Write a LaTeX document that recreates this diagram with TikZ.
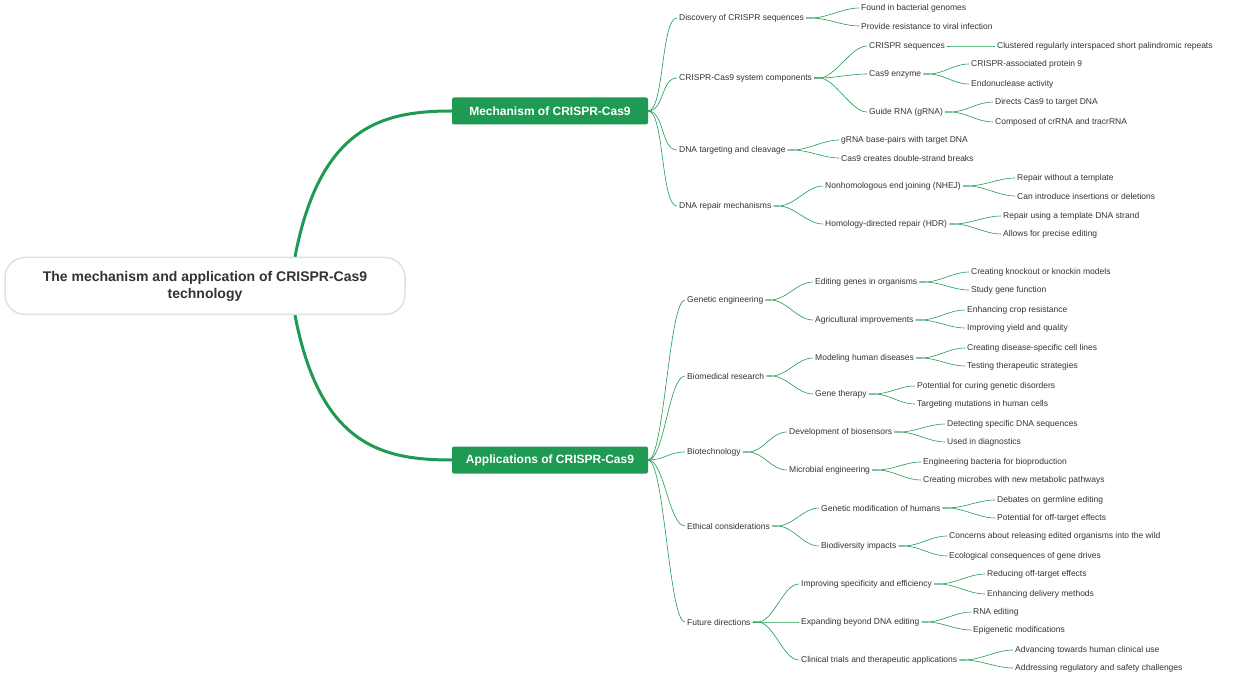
\documentclass[tikz,border=0pt]{standalone}
\usepackage{fontspec}
\setmainfont{Liberation Sans}
\usetikzlibrary{positioning}
\definecolor{mapgreen}{HTML}{1F9A52}
\definecolor{maptext}{HTML}{333333}
\newcommand\maplink[2]{\draw[link] (#1.east) -- ++(5,0) .. controls +(16,0) and +(-16,0) .. (#2.west);}
\begin{document}
\begin{tikzpicture}
[
	x=1pt, y=-1pt,
	root/.style = {rectangle, draw=black!12, line width=1.5pt, fill=white, rounded corners=20pt, minimum width=400pt, minimum height=57pt, align=center, font=\fontsize{14}{17}\selectfont\bfseries, text=maptext},
	main/.style = {rectangle, fill=mapgreen, rounded corners=2pt, minimum width=196pt, minimum height=27pt, font=\fontsize{12}{14}\selectfont\bfseries, text=white},
	leaf/.style = {anchor=west, inner sep=2pt, font=\fontsize{8.5}{10}\selectfont, text=maptext},
	link/.style = {draw=mapgreen, line width=0.6pt},
	trunk/.style = {draw=mapgreen, line width=3pt}
]
\useasboundingbox (0,0) rectangle (1240,676);

\node[root] (root) at (205,286) {The mechanism and application of CRISPR-Cas9\\technology};
\node[main] (mech) at (550,111) {Mechanism of CRISPR-Cas9};
\node[main] (appl) at (550,460) {Applications of CRISPR-Cas9};

\draw[trunk] ([xshift=90pt]root.north) .. controls +(25,-130) and +(-70,0) .. (mech.west);
\draw[trunk] ([xshift=90pt]root.south) .. controls +(25,130) and +(-70,0) .. (appl.west);

% mechanism
\node[leaf] (disc) at (677,18) {Discovery of CRISPR sequences};
\node[leaf] (disca) at (859,8) {Found in bacterial genomes};
\node[leaf] (discb) at (859,26) {Provide resistance to viral infection};
\node[leaf] (comp) at (677,78) {CRISPR-Cas9 system components};
\node[leaf] (seq) at (867,46) {CRISPR sequences};
\node[leaf] (seqa) at (995,46) {Clustered regularly interspaced short palindromic repeats};
\node[leaf] (cas) at (867,74) {Cas9 enzyme};
\node[leaf] (casa) at (969,64) {CRISPR-associated protein 9};
\node[leaf] (casb) at (969,84) {Endonuclease activity};
\node[leaf] (grna) at (867,112) {Guide RNA (gRNA)};
\node[leaf] (grnaa) at (993,102) {Directs Cas9 to target DNA};
\node[leaf] (grnab) at (993,122) {Composed of crRNA and tracrRNA};
\node[leaf] (targ) at (677,150) {DNA targeting and cleavage};
\node[leaf] (targa) at (839,140) {gRNA base-pairs with target DNA};
\node[leaf] (targb) at (839,158) {Cas9 creates double-strand breaks};
\node[leaf] (rep) at (677,206) {DNA repair mechanisms};
\node[leaf] (nhej) at (823,186) {Nonhomologous end joining (NHEJ)};
\node[leaf] (nheja) at (1015,178) {Repair without a template};
\node[leaf] (nhejb) at (1015,196) {Can introduce insertions or deletions};
\node[leaf] (hdr) at (823,224) {Homology-directed repair (HDR)};
\node[leaf] (hdra) at (1001,216) {Repair using a template DNA strand};
\node[leaf] (hdrb) at (1001,234) {Allows for precise editing};

% applications
\node[leaf] (gen) at (685,300) {Genetic engineering};
\node[leaf] (edit) at (813,282) {Editing genes in organisms};
\node[leaf] (edita) at (969,272) {Creating knockout or knockin models};
\node[leaf] (editb) at (969,290) {Study gene function};
\node[leaf] (agri) at (813,320) {Agricultural improvements};
\node[leaf] (agria) at (965,310) {Enhancing crop resistance};
\node[leaf] (agrib) at (965,328) {Improving yield and quality};
\node[leaf] (bio) at (685,376) {Biomedical research};
\node[leaf] (mod) at (813,358) {Modeling human diseases};
\node[leaf] (moda) at (965,348) {Creating disease-specific cell lines};
\node[leaf] (modb) at (965,366) {Testing therapeutic strategies};
\node[leaf] (ther) at (813,394) {Gene therapy};
\node[leaf] (thera) at (915,386) {Potential for curing genetic disorders};
\node[leaf] (therb) at (915,404) {Targeting mutations in human cells};
\node[leaf] (tech) at (685,452) {Biotechnology};
\node[leaf] (sens) at (787,432) {Development of biosensors};
\node[leaf] (sensa) at (945,424) {Detecting specific DNA sequences};
\node[leaf] (sensb) at (945,442) {Used in diagnostics};
\node[leaf] (micr) at (787,470) {Microbial engineering};
\node[leaf] (micra) at (921,462) {Engineering bacteria for bioproduction};
\node[leaf] (micrb) at (921,480) {Creating microbes with new metabolic pathways};
\node[leaf] (eth) at (685,526) {Ethical considerations};
\node[leaf] (hum) at (819,508) {Genetic modification of humans};
\node[leaf] (huma) at (995,500) {Debates on germline editing};
\node[leaf] (humb) at (995,518) {Potential for off-target effects};
\node[leaf] (div) at (819,546) {Biodiversity impacts};
\node[leaf] (diva) at (947,536) {Concerns about releasing edited organisms into the wild};
\node[leaf] (divb) at (947,556) {Ecological consequences of gene drives};
\node[leaf] (fut) at (685,622) {Future directions};
\node[leaf] (spec) at (799,584) {Improving specificity and efficiency};
\node[leaf] (speca) at (985,574) {Reducing off-target effects};
\node[leaf] (specb) at (985,594) {Enhancing delivery methods};
\node[leaf] (beyo) at (799,622) {Expanding beyond DNA editing};
\node[leaf] (beyoa) at (971,612) {RNA editing};
\node[leaf] (beyob) at (971,630) {Epigenetic modifications};
\node[leaf] (clin) at (799,660) {Clinical trials and therapeutic applications};
\node[leaf] (clina) at (1013,650) {Advancing towards human clinical use};
\node[leaf] (clinb) at (1013,668) {Addressing regulatory and safety challenges};

% connectors from the green boxes
\foreach \c in {disc,comp,targ,rep}
	\draw[link] (mech.east) .. controls +(16,0) and +(-16,0) .. (\c.west);
\foreach \c in {gen,bio,tech,eth,fut}
	\draw[link] (appl.east) .. controls +(16,0) and +(-16,0) .. (\c.west);

% connectors between leaves
\maplink{disc}{disca} \maplink{disc}{discb}
\maplink{comp}{seq} \maplink{comp}{cas} \maplink{comp}{grna}
\maplink{seq}{seqa}
\maplink{cas}{casa} \maplink{cas}{casb}
\maplink{grna}{grnaa} \maplink{grna}{grnab}
\maplink{targ}{targa} \maplink{targ}{targb}
\maplink{rep}{nhej} \maplink{rep}{hdr}
\maplink{nhej}{nheja} \maplink{nhej}{nhejb}
\maplink{hdr}{hdra} \maplink{hdr}{hdrb}
\maplink{gen}{edit} \maplink{gen}{agri}
\maplink{edit}{edita} \maplink{edit}{editb}
\maplink{agri}{agria} \maplink{agri}{agrib}
\maplink{bio}{mod} \maplink{bio}{ther}
\maplink{mod}{moda} \maplink{mod}{modb}
\maplink{ther}{thera} \maplink{ther}{therb}
\maplink{tech}{sens} \maplink{tech}{micr}
\maplink{sens}{sensa} \maplink{sens}{sensb}
\maplink{micr}{micra} \maplink{micr}{micrb}
\maplink{eth}{hum} \maplink{eth}{div}
\maplink{hum}{huma} \maplink{hum}{humb}
\maplink{div}{diva} \maplink{div}{divb}
\maplink{fut}{spec} \maplink{fut}{beyo} \maplink{fut}{clin}
\maplink{spec}{speca} \maplink{spec}{specb}
\maplink{beyo}{beyoa} \maplink{beyo}{beyob}
\maplink{clin}{clina} \maplink{clin}{clinb}
\end{tikzpicture}
\end{document}
